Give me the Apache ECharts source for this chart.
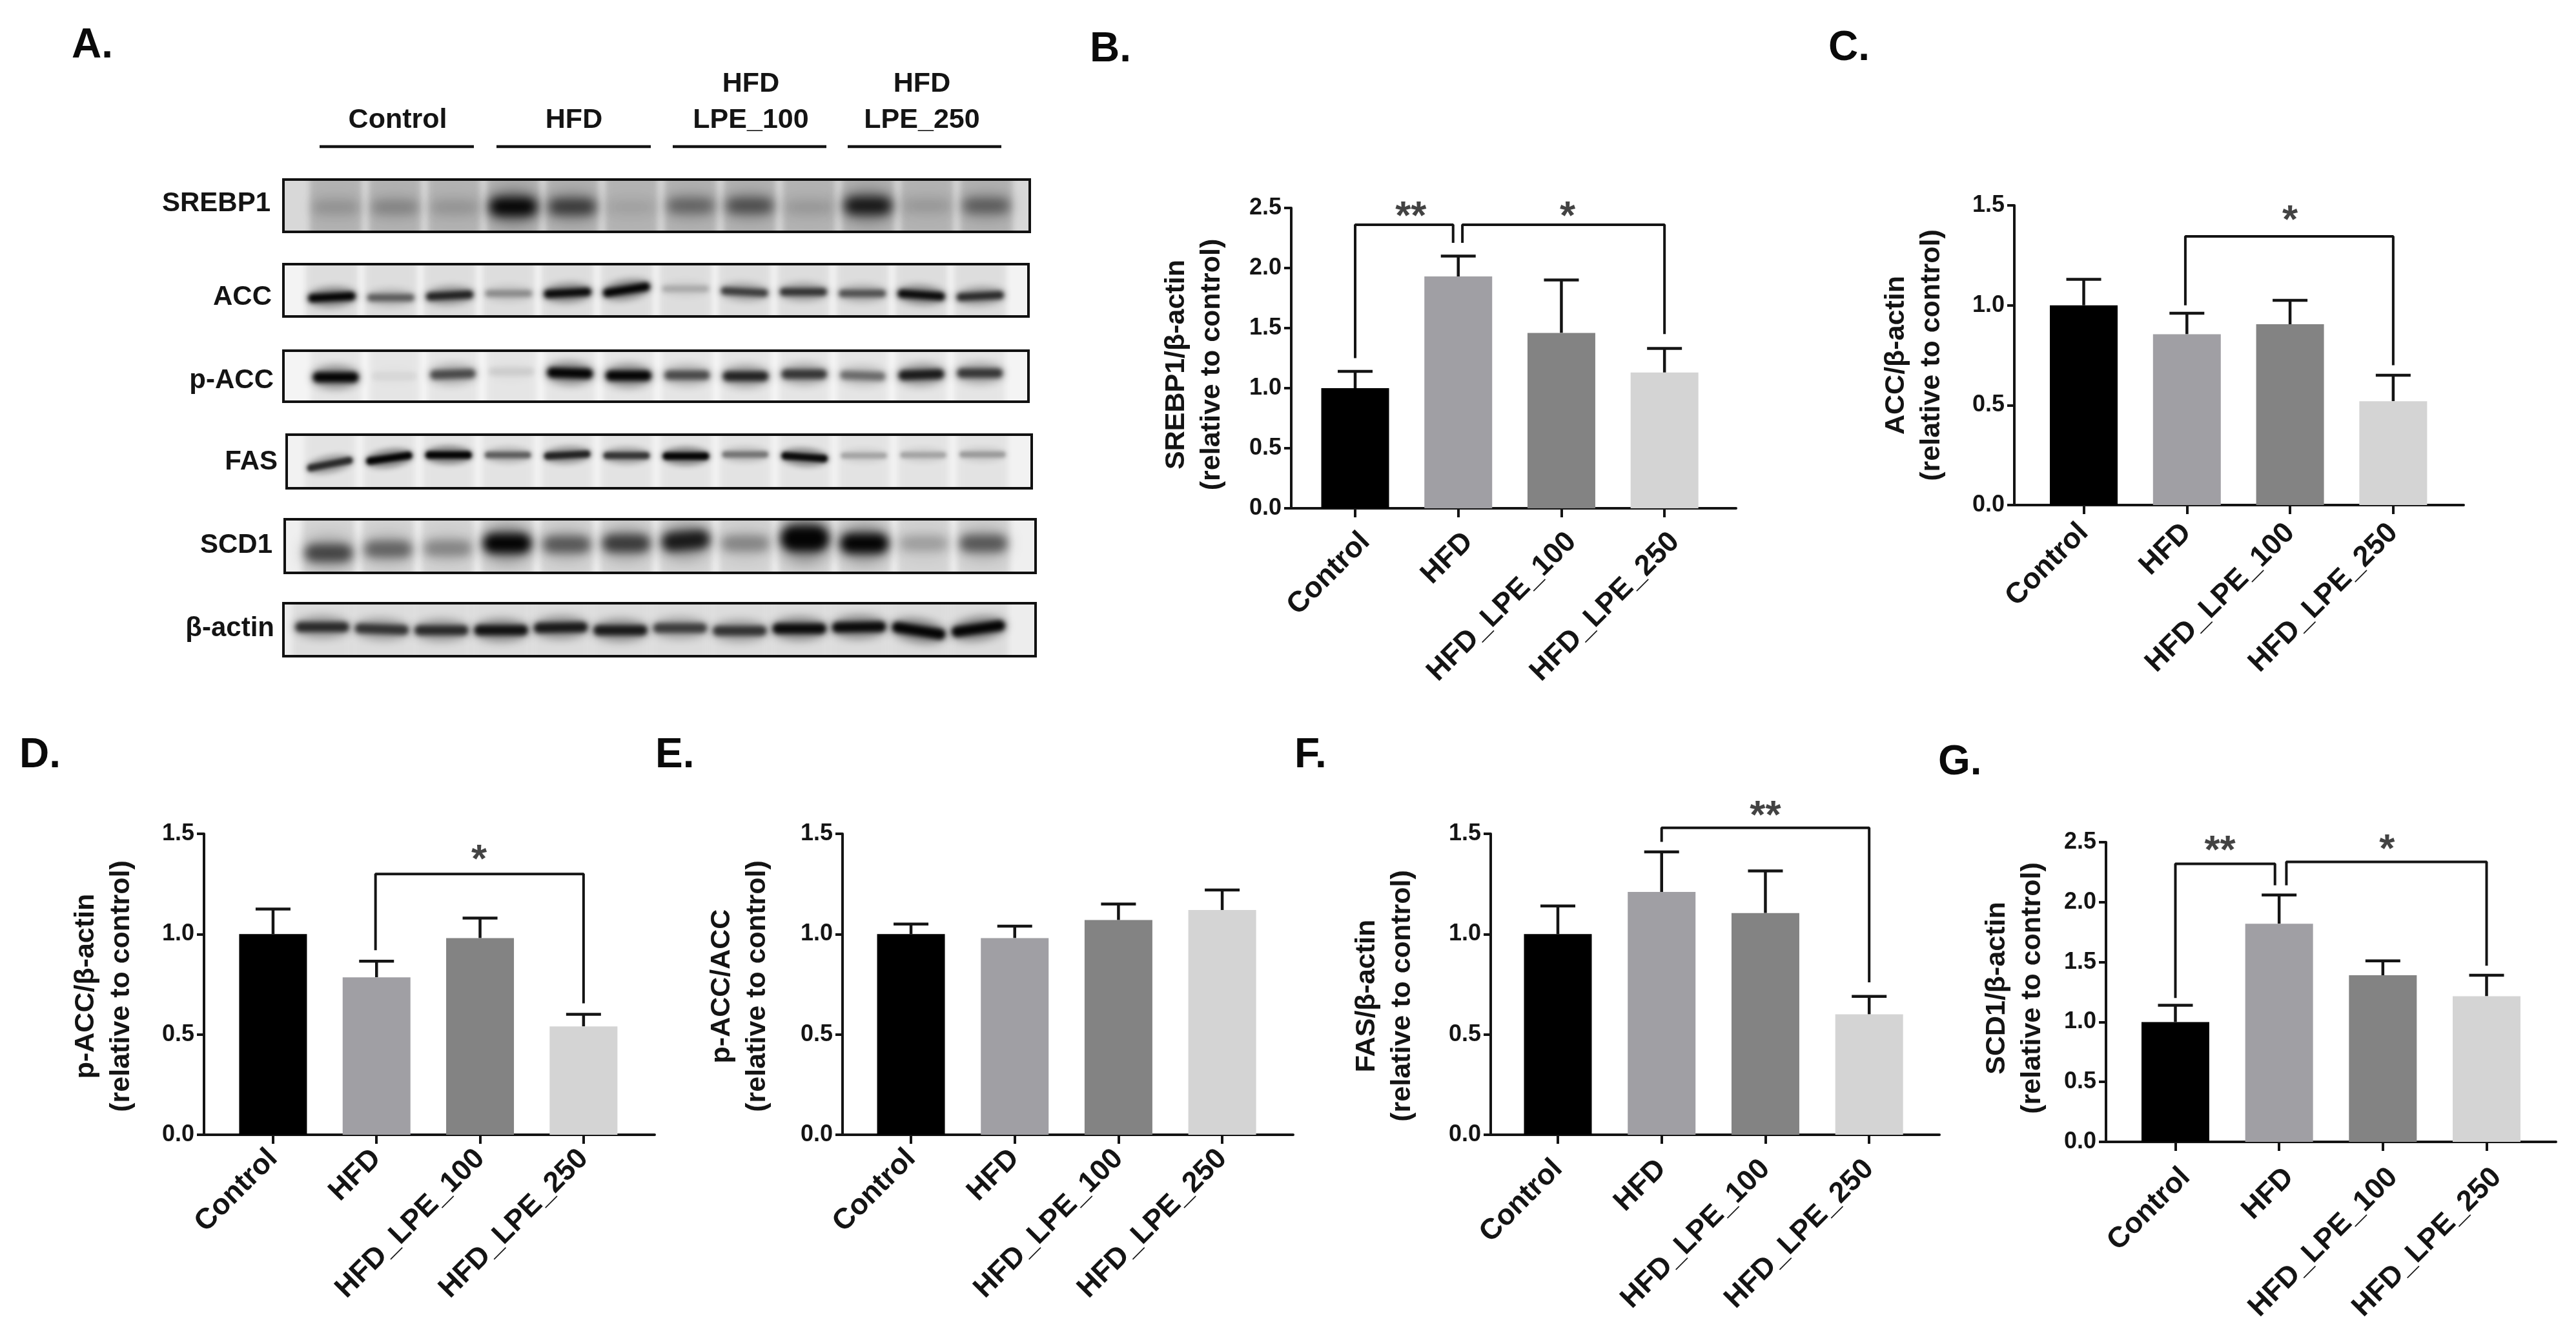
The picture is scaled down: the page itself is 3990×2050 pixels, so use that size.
<!DOCTYPE html>
<html>
<head>
<meta charset="utf-8">
<title>Lipogenic protein western blots and quantification</title>
<style>html,body{margin:0;padding:0;background:#fff}#chart{width:3990px;height:2050px}</style>
<script src="https://cdn.jsdelivr.net/npm/echarts@6/dist/echarts.min.js"></script>
</head>
<body>
<div id="chart"></div>
<script>
// ---------- bar-chart data ----------
const categories = ['Control', 'HFD', 'HFD_LPE_100', 'HFD_LPE_250'];

const srebp1Means = [1.00, 1.93, 1.46, 1.13];
const srebp1Upper = [1.14, 2.10, 1.90, 1.33];
const accMeans    = [1.00, 0.855, 0.905, 0.52];
const accUpper    = [1.13, 0.96, 1.025, 0.65];
const pAccMeans   = [1.00, 0.785, 0.98, 0.54];
const pAccUpper   = [1.125, 0.865, 1.08, 0.60];
const ratioMeans  = [1.00, 0.98, 1.07, 1.12];
const ratioUpper  = [1.05, 1.04, 1.15, 1.22];
const fasMeans    = [1.00, 1.21, 1.105, 0.60];
const fasUpper    = [1.14, 1.41, 1.315, 0.69];
const scd1Means   = [1.00, 1.82, 1.39, 1.215];
const scd1Upper   = [1.14, 2.06, 1.51, 1.39];

// significance brackets: [x, y] corners, then the star position
const srebp1Brackets = [
  { path: [[0, 1.25], [0, 2.36], [0.95, 2.36], [0.95, 2.21]], star: [0.54, 2.48], text: '**' },
  { path: [[1.04, 2.21], [1.04, 2.36], [3, 2.36], [3, 1.45]], star: [2.06, 2.48], text: '*' }
];
const accBrackets = [
  { path: [[0.985, 1.0], [0.985, 1.345], [3, 1.345], [3, 0.70]], star: [2.0, 1.455], text: '*' }
];
const pAccBrackets = [
  { path: [[0.99, 0.92], [0.99, 1.30], [3, 1.30], [3, 0.655]], star: [1.99, 1.40], text: '*' }
];
const ratioBrackets = [];
const fasBrackets = [
  { path: [[1, 1.46], [1, 1.53], [3, 1.53], [3, 0.76]], star: [2, 1.62], text: '**' }
];
const scd1Brackets = [
  { path: [[0, 1.2], [0, 2.32], [0.96, 2.32], [0.96, 2.14]], star: [0.43, 2.48], text: '**' },
  { path: [[1.07, 2.14], [1.07, 2.335], [3, 2.335], [3, 1.47]], star: [2.04, 2.49], text: '*' }
];

const yTicks15 = { max: 1.5 };
const yTicks25 = { max: 2.5 };

// ---------- blot data: band darkness, band height in lane (% of strip), tilt (deg) ----------
const blotNames = ['SREBP1', 'ACC', 'p-ACC', 'FAS', 'SCD1', 'β-actin'];
const groupLabels = ['Control', 'HFD', 'HFD\nLPE_100', 'HFD\nLPE_250'];

const srebp1Dark = [0.15, 0.22, 0.14, 1.0, 0.62, 0.08, 0.38, 0.5, 0.12, 0.85, 0.12, 0.42];
const srebp1Pos  = [53, 53, 53, 52, 52, 53, 50, 50, 53, 50, 50, 50];
const srebp1Tilt = [0, 0, 0, 0, 0, 0, 0, 0, 0, 0, 0, 0];
const accDark = [1.0, 0.5, 0.8, 0.3, 0.95, 1.0, 0.18, 0.65, 0.7, 0.55, 0.95, 0.75];
const accPos  = [63, 64, 60, 56, 55, 49, 47, 53, 53, 56, 59, 61];
const accTilt = [3, 0, 3, 0, 3, 9, 0, -3, 0, 0, -4, 3];
const pAccDark = [1.0, 0.05, 0.6, 0.08, 1.0, 1.0, 0.6, 0.8, 0.7, 0.45, 0.85, 0.7];
const pAccPos  = [52, 50, 46, 41, 44, 49, 48, 50, 46, 49, 47, 44];
const pAccTilt = [0, 0, 2, 0, -2, 0, 0, 0, 0, -2, 2, 0];
const fasDark = [0.75, 1.0, 1.0, 0.5, 0.8, 0.7, 1.0, 0.4, 0.95, 0.22, 0.22, 0.25];
const fasPos  = [55, 44, 38, 38, 38, 39, 40, 37, 42, 39, 38, 37];
const fasTilt = [11, 8, 0, 0, 3, 0, 0, 0, -4, 0, 0, 0];
const scd1Dark = [0.6, 0.45, 0.3, 1.0, 0.5, 0.65, 0.85, 0.3, 1.3, 1.0, 0.2, 0.5];
const scd1Pos  = [63, 56, 54, 45, 47, 45, 40, 45, 36, 45, 45, 45];
const scd1Tilt = [0, 0, 0, 0, 0, 0, 5, 0, 0, 0, 0, 0];
const actinDark = [0.75, 0.7, 0.75, 0.9, 0.85, 0.85, 0.65, 0.7, 0.95, 0.95, 1.0, 1.0];
const actinPos  = [45, 49, 51, 51, 46, 51, 47, 52, 48, 45, 52, 48];
const actinTilt = [0, -2, 0, 0, 1, 0, 0, 0, 0, 1, -9, 8];

// ---------- layout and style (not data) ----------
const barColors = ['#000000', '#a09fa4', '#838383', '#d4d4d4'];
const INK = '#141414';
const FONT = '"Liberation Sans", Arial, sans-serif';

const panels = [
  { means: srebp1Means, upper: srebp1Upper, brackets: srebp1Brackets, y: yTicks25, title: 'SREBP1/β-actin\n(relative to control)',
    left: 2000, right: 2689, top: 322, bottom: 787, xMin: -0.62, xMax: 3.694, gap: 95, shift: 10, labelMargin: 29, labelAlign: 'top' },
  { means: accMeans, upper: accUpper, brackets: accBrackets, y: yTicks15, title: 'ACC/β-actin\n(relative to control)',
    left: 3120, right: 3816, top: 318, bottom: 782, xMin: -0.673, xMax: 3.683, gap: 100, shift: 0, labelMargin: 36, labelAlign: 'middle' },
  { means: pAccMeans, upper: pAccUpper, brackets: pAccBrackets, y: yTicks15, title: 'p-ACC/β-actin\n(relative to control)',
    left: 316, right: 1014, top: 1291, bottom: 1757, xMin: -0.667, xMax: 3.687, gap: 100, shift: 3, labelMargin: 30, labelAlign: 'middle' },
  { means: ratioMeans, upper: ratioUpper, brackets: ratioBrackets, y: yTicks15, title: 'p-ACC/ACC\n(relative to control)',
    left: 1305, right: 2003, top: 1291, bottom: 1757, xMin: -0.66, xMax: 3.684, gap: 104, shift: 3, labelMargin: 30, labelAlign: 'middle' },
  { means: fasMeans, upper: fasUpper, brackets: fasBrackets, y: yTicks15, title: 'FAS/β-actin\n(relative to control)',
    left: 2309, right: 3004, top: 1291, bottom: 1757, xMin: -0.647, xMax: 3.677, gap: 109, shift: 18, labelMargin: 46, labelAlign: 'middle' },
  { means: scd1Means, upper: scd1Upper, brackets: scd1Brackets, y: yTicks25, title: 'SCD1/β-actin\n(relative to control)',
    left: 3262, right: 3959, top: 1304, bottom: 1768, xMin: -0.669, xMax: 3.669, gap: 86, shift: -6, labelMargin: 32, labelAlign: 'top' }
];

const strips = [
  { dark: srebp1Dark, pos: srebp1Pos, tilt: srebp1Tilt, left: 439, right: 1595, top: 278, bottom: 359, firstLane: 520, laneStep: 91.6, thick: 17, halo: 1.9, coreBlur: 16, bg: '#d8d8d8', smear: 0.17, spread: 0.4 },
  { dark: accDark, pos: accPos, tilt: accTilt, left: 439, right: 1593, top: 409, bottom: 490, firstLane: 514, laneStep: 91.3, thick: 8, halo: 2.4, coreBlur: 6, bg: '#f3f3f3', smear: 0.09, spread: 0.4 },
  { dark: pAccDark, pos: pAccPos, tilt: pAccTilt, left: 439, right: 1593, top: 543, bottom: 622, firstLane: 520, laneStep: 90.7, thick: 10, halo: 2.3, coreBlur: 7, bg: '#f4f4f4', smear: 0.06, spread: 0.39 },
  { dark: fasDark, pos: fasPos, tilt: fasTilt, left: 444, right: 1598, top: 673, bottom: 756, firstLane: 511, laneStep: 91.9, thick: 7, halo: 2.5, coreBlur: 5, bg: '#f2f2f2', smear: 0.06, spread: 0.39 },
  { dark: scd1Dark, pos: scd1Pos, tilt: scd1Tilt, left: 441, right: 1604, top: 804, bottom: 887, firstLane: 509, laneStep: 92.2, thick: 18, halo: 1.9, coreBlur: 14, bg: '#efefef', smear: 0.11, spread: 0.4 },
  { dark: actinDark, pos: actinPos, tilt: actinTilt, left: 439, right: 1604, top: 934, bottom: 1016, firstLane: 499, laneStep: 92.4, thick: 10, halo: 2.3, coreBlur: 7, bg: '#ededed', smear: 0.07, spread: 0.45 }
];

const blotLabelPlaces = [[419, 315], [421, 460], [424, 589], [430, 715], [422, 844], [425, 973]];
const groupPlaces = [[616, 186], [889, 186], [1163, 158], [1428, 158]];
const groupLines = [[495, 734], [769, 1008], [1042, 1280], [1313, 1551]];
const panelLetters = [
  ['A.', 111, 103], ['B.', 1688, 109], ['C.', 2832, 107], ['D.', 30, 1202],
  ['E.', 1015, 1202], ['F.', 2005, 1202], ['G.', 3002, 1213]
];

// ---------- option assembly ----------
const grid = [], xAxis = [], yAxis = [], series = [], graphic = [];

panels.forEach((p, i) => {
  grid.push({ outerBoundsMode: 'none', left: p.left, top: p.top, width: p.right - p.left, height: p.bottom - p.top });
  xAxis.push({
    type: 'value', gridIndex: i, min: p.xMin, max: p.xMax, splitLine: { show: false },
    axisLine: { show: true, onZero: false, lineStyle: { color: INK, width: 4 } },
    axisTick: { show: true, customValues: [0, 1, 2, 3], length: 14, lineStyle: { color: INK, width: 4 } },
    axisLabel: {
      customValues: [0, 1, 2, 3], rotate: 45, margin: p.labelMargin, verticalAlign: p.labelAlign, fontFamily: FONT, fontWeight: 'bold',
      fontSize: 45, color: INK, formatter: v => categories[v], hideOverlap: false
    }
  });
  yAxis.push({
    type: 'value', gridIndex: i, min: 0, max: p.y.max, interval: 0.5, splitLine: { show: false },
    axisLine: { show: true, onZero: false, lineStyle: { color: INK, width: 4 } },
    axisTick: { show: true, length: 11, lineStyle: { color: INK, width: 4 } },
    axisLabel: { margin: 15, fontFamily: FONT, fontWeight: 'bold', fontSize: 36, color: INK, formatter: v => v.toFixed(1) },
    name: p.title, nameLocation: 'middle', nameRotate: 90, nameGap: p.gap,
    nameTextStyle: {
      fontFamily: FONT, fontWeight: 'bold', fontSize: 43, lineHeight: 55, color: INK, align: 'center',
      padding: p.shift >= 0 ? [0, 2 * p.shift, 0, 0] : [0, 0, 0, -2 * p.shift]
    }
  });

  series.push({
    type: 'bar', xAxisIndex: i, yAxisIndex: i, barWidth: 105, silent: true, animation: false,
    data: p.means.map((m, k) => ({ value: [k, m], itemStyle: { color: barColors[k] } }))
  });
  series.push({
    type: 'custom', xAxisIndex: i, yAxisIndex: i, silent: true, animation: false, clip: false,
    data: p.means.map((m, k) => [k, p.upper[k], m]),
    renderItem: (params, api) => {
      const top = api.coord([api.value(0), api.value(1)]);
      const base = api.coord([api.value(0), api.value(2)]);
      const style = { stroke: INK, lineWidth: 4.5, fill: null };
      return { type: 'group', children: [
        { type: 'line', shape: { x1: top[0], y1: base[1], x2: top[0], y2: top[1] }, style },
        { type: 'line', shape: { x1: top[0] - 27, y1: top[1], x2: top[0] + 27, y2: top[1] }, style }
      ] };
    }
  });
  p.brackets.forEach(b => {
    series.push({
      type: 'line', xAxisIndex: i, yAxisIndex: i, data: b.path, showSymbol: false, symbol: 'none',
      clip: false, silent: true, animation: false, lineStyle: { color: INK, width: 4 }
    });
    series.push({
      type: 'scatter', xAxisIndex: i, yAxisIndex: i, data: [b.star], symbolSize: 1, clip: false,
      silent: true, animation: false, itemStyle: { color: 'transparent' },
      label: {
        show: true, position: 'inside', formatter: b.text, fontFamily: FONT, fontWeight: 'bold',
        fontSize: 62, color: INK, offset: [0, 11]
      }
    });
  });
});

// A blurred mark only: the solid shape sits outside the strip's clip, its shadow lands in the strip.
const OFF = 6000;
const soft = (alpha, blur) => ({
  fill: '#000000', shadowColor: 'rgba(0,0,0,' + alpha.toFixed(3) + ')', shadowBlur: blur, shadowOffsetX: OFF
});

strips.forEach((s, j) => {
  const idx = panels.length + j;
  grid.push({
    show: true, outerBoundsMode: 'none', left: s.left, top: s.top, width: s.right - s.left, height: s.bottom - s.top,
    backgroundColor: s.bg, borderColor: '#111111', borderWidth: 4, z: 0
  });
  xAxis.push({ type: 'value', gridIndex: idx, show: false,
    min: (s.left - s.firstLane) / s.laneStep, max: (s.right - s.firstLane) / s.laneStep });
  yAxis.push({ type: 'value', gridIndex: idx, show: false, inverse: true, min: 0, max: 100 });
  series.push({
    type: 'custom', xAxisIndex: idx, yAxisIndex: idx, silent: true, animation: false, clip: true,
    data: s.dark.map((d, k) => [k, s.pos[k], d, s.tilt[k]]),
    renderItem: (params, api) => {
      const c = api.coord([api.value(0), api.value(1)]);
      const laneW = api.size([1, 0])[0];
      const ry = api.size([0, s.thick])[1];
      const d = api.value(2);
      const a = Math.min(1, d);
      const grow = d > 1 ? d : 0.75 + 0.25 * d;
      const rx = laneW * s.spread;
      const rot = api.value(3) * Math.PI / 180;
      const yTop = api.coord([0, 0])[1], yBot = api.coord([0, 100])[1];
      const cx = c[0] - OFF, h = ry * grow;
      return { type: 'group', children: [
        { type: 'rect', shape: { x: cx - rx * 1.1, y: yTop - 30, width: rx * 2.2, height: yBot - yTop + 60, r: 4 },
          style: soft(s.smear, 10) },
        { type: 'ellipse', shape: { cx, cy: c[1], rx: rx * 1.08, ry: h * s.halo },
          rotation: rot, originX: cx, originY: c[1],
          style: soft(a * 0.4, s.coreBlur * 1.8) },
        { type: 'rect', shape: { x: cx - rx, y: c[1] - h, width: rx * 2, height: h * 2, r: h },
          rotation: rot, originX: cx, originY: c[1],
          style: soft(a * 0.97, s.coreBlur) }
      ] };
    }
  });
});

const labelStyle = (text, x, y, align, size) => ({
  type: 'text', silent: true,
  style: { text, x, y, align, verticalAlign: 'middle', fontFamily: FONT, fontWeight: 'bold', fontSize: size, lineHeight: 56, fill: INK }
});
blotNames.forEach((n, k) => graphic.push(labelStyle(n, blotLabelPlaces[k][0], blotLabelPlaces[k][1], 'right', 42)));
groupLabels.forEach((n, k) => graphic.push(labelStyle(n, groupPlaces[k][0], groupPlaces[k][1], 'center', 43)));
groupLines.forEach(l => graphic.push({
  type: 'line', silent: true, shape: { x1: l[0], y1: 227, x2: l[1], y2: 227 }, style: { stroke: INK, lineWidth: 4.5 }
}));
panelLetters.forEach(l => graphic.push({
  type: 'text', silent: true,
  style: { text: l[0], x: l[1], y: l[2], align: 'left', verticalAlign: 'bottom', fontFamily: FONT, fontWeight: 'bold', fontSize: 64, fill: '#0a0a0a', lineHeight: 64 }
}));

const chart = echarts.init(document.getElementById('chart'), null, { renderer: 'canvas', width: 3990, height: 2050 });
chart.setOption({ animation: false, backgroundColor: '#ffffff', grid, xAxis, yAxis, series, graphic });
</script>
</body>
</html>
